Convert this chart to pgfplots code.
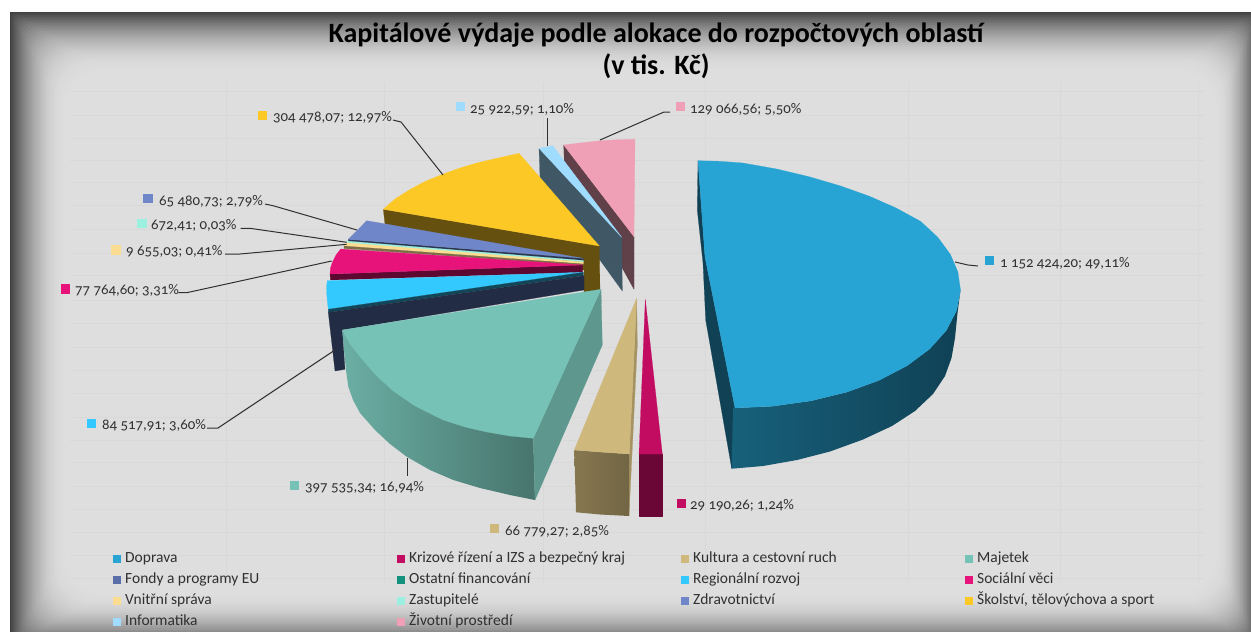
\documentclass[border=0pt]{standalone}
\usepackage{pgfplots}
\pgfplotsset{compat=1.18}
\usepackage{fontspec}
\setmainfont[Numbers=OldStyle]{Carlito}
\definecolor{bgL}{HTML}{DEDEDE}
\definecolor{bgD}{HTML}{4A4A4A}
\definecolor{gridc}{HTML}{D8D8D8}
\definecolor{cDop}{HTML}{27A4D3}
\definecolor{cKri}{HTML}{C20C62}
\definecolor{cKul}{HTML}{CFB87B}
\definecolor{cMaj}{HTML}{77C2B6}
\definecolor{cFon}{HTML}{5A6FA8}
\definecolor{cOst}{HTML}{12917D}
\definecolor{cReg}{HTML}{33C9FF}
\definecolor{cSoc}{HTML}{E8137A}
\definecolor{cVni}{HTML}{FBDC90}
\definecolor{cZas}{HTML}{9CF0E0}
\definecolor{cZdr}{HTML}{6F87C8}
\definecolor{cSko}{HTML}{FCC826}
\definecolor{cInf}{HTML}{A0DCFF}
\definecolor{cZiv}{HTML}{EF9FB6}
\definecolor{cNavy}{HTML}{222D45}
\definecolor{dopA}{HTML}{17607A}
\definecolor{dopB}{HTML}{104155}
\definecolor{leader}{HTML}{303030}
\definecolor{ink}{HTML}{303030}
\pgfplotsset{
  poly/.style={forget plot,no markers,fill=#1,draw=#1,line width=0.2pt,line join=round},
  shd/.style n args={3}{forget plot,no markers,draw=none,left color=#1,middle color=#2,right color=#3},
  lead/.style={forget plot,no markers,color=leader,line width=1pt},
  mk/.style={forget plot,only marks,mark=square*,mark size=4.2pt,color=#1,mark options={draw=none,fill=#1}},
}
\newcommand{\lab}[3]{\node[anchor=west,inner sep=0pt,text=ink,font=\fontsize{14.8}{16}\selectfont] at (axis cs:#1,#2) {#3};}
\begin{document}
\begin{tikzpicture}[x=1pt,y=1pt]
\useasboundingbox (0,0) rectangle (1251,632);
\fill[white] (0,0) rectangle (1251,632);
\fill[bgD!85!black] (10,-20) rectangle (1260,620);
\foreach \i in {0,...,29}{
  \pgfmathsetmacro\g{100*(1-(1-\i/29)^2)}
  \pgfmathsetmacro\xa{11+1.9*\i}
  \pgfmathsetmacro\xb{1257-1.4*\i}
  \pgfmathsetmacro\ya{-14+1.8*\i}
  \pgfmathsetmacro\yb{619-2*\i}
  \pgfmathsetmacro\r{3+1.4*\i}
  \fill[bgL!\g!bgD,rounded corners=\r pt] (\xa,\ya) rectangle (\xb,\yb);
}
\foreach \y in {91.8,115,138,160,182,205,229,253,275,300,323,347,370,393,417,440,462,486,509,532,555,578}
  \draw[gridc,line width=0.7pt] (70,632-\y) -- (1205,632-\y);
\foreach \x in {226,384,543,705,908,1060,1198}
  \draw[gridc,line width=0.7pt] (\x,50) -- (\x,550);
\begin{axis}[
  at={(0,0)},anchor=south west,
  scale only axis,width=1251pt,height=632pt,
  xmin=0,xmax=1251,ymin=0,ymax=632,y dir=reverse,
  hide axis,clip=false,
  title={Kapitálové výdaje podle alokace do rozpočtových oblastí\\(v tis. Kč)},
  title style={at={(axis cs:656,57)},anchor=center,align=center,inner sep=0pt,
    font=\fontsize{28}{32}\selectfont\bfseries},
  legend columns=4,
  legend cell align=left,
  legend image code/.code={\fill[#1] (0pt,-4pt) rectangle (8pt,4pt);\path (12.5pt,0pt);},
  legend style={at={(axis cs:112.5,552)},anchor=north west,draw=none,fill=none,
    font=\fontsize{15.5}{18}\selectfont,text=ink,row sep=8.2pt,inner sep=0pt,
    nodes={inner sep=0pt,text height=10pt,text depth=3pt}},
]
% --- Zivotni prostredi
\addplot[poly=cZiv!40!black] coordinates {(563.7,145)(564.3,163)(634,289.3)(634,236.7)} --cycle;
\addplot[poly=cZiv] coordinates {(563.7,145)(580,143)(600,140.7)(618,139.7)(635,139.3)(634,236.7)} --cycle;
% --- Informatika
\addplot[poly=cInf!40!black] coordinates {(539,148.3)(540,177)(622.3,291)(621.7,237.3)} --cycle;
\addplot[poly=cInf] coordinates {(539,148.3)(552.7,145.7)(621.7,237.3)} --cycle;
% --- Skolstvi
\addplot[poly=cSko!40!black] coordinates {(383.3,209.3)(385,224)(584,270)(584,292)(600,290)(599.3,246)} --cycle;
\addplot[poly=cSko] coordinates {(383.3,209.3)(395,199)(410,189.5)(425,181.5)(443.3,174)(460,168)(476.7,163)(498,158)(519,153.3)(599.3,246)} --cycle;
% --- Zdravotnictvi
\addplot[poly=cZdr!40!black] coordinates {(348.3,239.3)(348.3,241.5)(583.3,260.5)(583.3,258.3)} --cycle;
\addplot[poly=cZdr] coordinates {(366.7,220.7)(358.3,229.3)(348.3,239.3)(583.3,258.3)} --cycle;
% --- Zastupitele
\addplot[poly=cZas] coordinates {(346,241)(345.3,242.7)(583.3,262)(583.3,260.5)} --cycle;
% --- Vnitrni sprava
\addplot[poly=cVni] coordinates {(345.3,242.7)(344,246)(583.3,264)(583.3,262)} --cycle;
\addplot[poly=cVni!50!black] coordinates {(344,246)(344,248.5)(583,265.5)(583.3,264)} --cycle;
% --- Socialni veci
\addplot[poly=cSoc!40!black] coordinates {(330,274)(330.5,280)(582.7,272.3)(582.7,265)} --cycle;
\addplot[poly=cSoc] coordinates {(340.7,249)(336,255)(332.5,262)(330.5,268)(330,274)(582.7,265)} --cycle;
% --- Regionalni rozvoj
\addplot[poly=cReg] coordinates {(327.3,280.7)(326.5,287)(326.7,293.3)(327.3,301)(328.3,309.3)(583.3,272.3)} --cycle;
\addplot[poly={cReg!35!black}] coordinates {(328.3,309.3)(328.3,312.5)(583.3,275.7)(583.3,272.3)} --cycle;
\addplot[poly=cNavy] coordinates {(328.3,312.5)(335,371)(345,369.3)(342.3,330)(584,290)(584,275.7)} --cycle;
% --- Majetek
\addplot[shd={cMaj!90!black}{cMaj!70!black}{cMaj!60!black}] coordinates {(342.3,330)(344,350)(346,370)(348.3,386.7)(353,400)(360,413)(375,430)(390,444)(406.7,456.7)(430,470)(453.3,480)(480,488)(510,495)(535,500)(533.3,438.3)} --cycle;
\addplot[poly=cMaj!78!black] coordinates {(601,289.3)(602.3,345)(535,500)(533.3,438.3)} --cycle;
\addplot[poly=cMaj] coordinates {(342.3,330)(350,344)(360,356.7)(376.7,376)(393.3,391)(415,406)(443.3,420)(465,427)(486.7,432)(510,436)(533.3,438.3)(601,289.3)} --cycle;
% --- Kultura a cestovni ruch
\addplot[poly=cKul!80!black] coordinates {(636.7,298.3)(637.3,345)(629,516)(629.3,454)} --cycle;
\addplot[shd={cKul!65!black}{cKul!60!black}{cKul!55!black}] coordinates {(574.3,450)(576,512.3)(600,514.5)(629,516)(629.3,454)(600,452)} --cycle;
\addplot[poly=cKul] coordinates {(636.7,298.3)(574.3,450)(600,452)(629.3,454)} --cycle;
% --- Krizove rizeni
\addplot[poly=cKri!55!black] coordinates {(639,454)(639,516)(662.3,516)(662.3,454)} --cycle;
\addplot[poly=cKri] coordinates {(645.3,299.3)(639,454)(662.3,454)} --cycle;
% --- Doprava
\addplot[poly=dopB] coordinates {(698,160.7)(697.3,210)(703,263)(705.7,320)(731.7,468.5)(735,408)(705,257)} --cycle;
\addplot[shd={dopA}{dopB}{dopB}] coordinates {(733,408)(731.7,468.7)(763,466)(797,460)(830,451.5)(863,439.5)(892,426)(915,411)(933,394)(945,376)(951.5,358)(955,338)(957.5,313)(960.5,290)(956.6,310.5)(946.3,330.4)(929.6,349)(906.9,365.8)(878.9,380.4)(846.5,392.2)(810.6,400.9)(772.4,406.2)} --cycle;
\addplot[poly=cDop] coordinates {(698,160.7)(720,161.3)(742.9,163)(776.7,169)(809,176.7)(840.4,185.9)(869.3,196.2)(896.1,208)(920.6,221.4)(937.8,237.3)(950.3,254.3)(957.9,272)(960.5,290)(956.6,310.5)(946.3,330.4)(929.6,349)(906.9,365.8)(878.9,380.4)(846.5,392.2)(810.6,400.9)(772.4,406.2)(735,408)(705,257)} --cycle;
% --- leader lines
\addplot[lead] coordinates {(955,262)(968,265)(978,266)};
\addplot[lead] coordinates {(393,120)(401,122)(443,175)};
\addplot[lead] coordinates {(547,118)(547,146)};
\addplot[lead] coordinates {(600,140)(664,112)(670,112)};
\addplot[lead] coordinates {(265,204)(273,205.7)(357,230)};
\addplot[lead] coordinates {(240.7,228.3)(250,228.3)(346.7,242.3)};
\addplot[lead] coordinates {(225,254)(240,254)(346.7,244.3)};
\addplot[lead] coordinates {(178.3,292.7)(186.7,292.7)(331.7,261)};
\addplot[lead] coordinates {(207,428)(218,428)(335,350)};
\addplot[lead] coordinates {(407,458)(407,476)};
% --- data-label markers
\addplot[mk=cDop] coordinates {(989,260)};
\addplot[mk=cKri] coordinates {(681,503)};
\addplot[mk=cKul] coordinates {(494,528)};
\addplot[mk=cMaj] coordinates {(294,485)};
\addplot[mk=cReg] coordinates {(91,423)};
\addplot[mk=cSoc] coordinates {(65,288.8)};
\addplot[mk=cVni] coordinates {(115.8,249.5)};
\addplot[mk=cZas] coordinates {(141.7,223)};
\addplot[mk=cZdr] coordinates {(147.7,198.3)};
\addplot[mk=cSko] coordinates {(262,115)};
\addplot[mk=cInf] coordinates {(460,106)};
\addplot[mk=cZiv] coordinates {(680,106)};
\lab{1000}{263}{1~152~424,20; 49,11\%}
\lab{690}{505}{29~190,26; 1,24\%}
\lab{505}{531}{66~779,27; 2,85\%}
\lab{305}{487}{397~535,34; 16,94\%}
\lab{102}{425}{84~517,91; 3,60\%}
\lab{75}{290}{77~764,60; 3,31\%}
\lab{126}{251}{9~655,03; 0,41\%}
\lab{151}{225}{672,41; 0,03\%}
\lab{159}{201}{65~480,73; 2,79\%}
\lab{273}{117}{304~478,07; 12,97\%}
\lab{470}{109}{25~922,59; 1,10\%}
\lab{690}{109}{129~066,56; 5,50\%}
% --- legend
\addlegendimage{fill=cDop,draw=none}\addlegendentry{\makebox[271.5pt][l]{Doprava}}
\addlegendimage{fill=cKri,draw=none}\addlegendentry{\makebox[271.5pt][l]{Krizové řízení a IZS a bezpečný kraj}}
\addlegendimage{fill=cKul,draw=none}\addlegendentry{\makebox[271.5pt][l]{Kultura a cestovní ruch}}
\addlegendimage{fill=cMaj,draw=none}\addlegendentry{\makebox[271.5pt][l]{Majetek}}
\addlegendimage{fill=cFon,draw=none}\addlegendentry{Fondy a programy EU}
\addlegendimage{fill=cOst,draw=none}\addlegendentry{Ostatní financování}
\addlegendimage{fill=cReg,draw=none}\addlegendentry{Regionální rozvoj}
\addlegendimage{fill=cSoc,draw=none}\addlegendentry{Sociální věci}
\addlegendimage{fill=cVni,draw=none}\addlegendentry{Vnitřní správa}
\addlegendimage{fill=cZas,draw=none}\addlegendentry{Zastupitelé}
\addlegendimage{fill=cZdr,draw=none}\addlegendentry{Zdravotnictví}
\addlegendimage{fill=cSko,draw=none}\addlegendentry{Školství, tělovýchova a sport}
\addlegendimage{fill=cInf,draw=none}\addlegendentry{Informatika}
\addlegendimage{fill=cZiv,draw=none}\addlegendentry{Životní prostředí}
\end{axis}
\end{tikzpicture}
\end{document}
